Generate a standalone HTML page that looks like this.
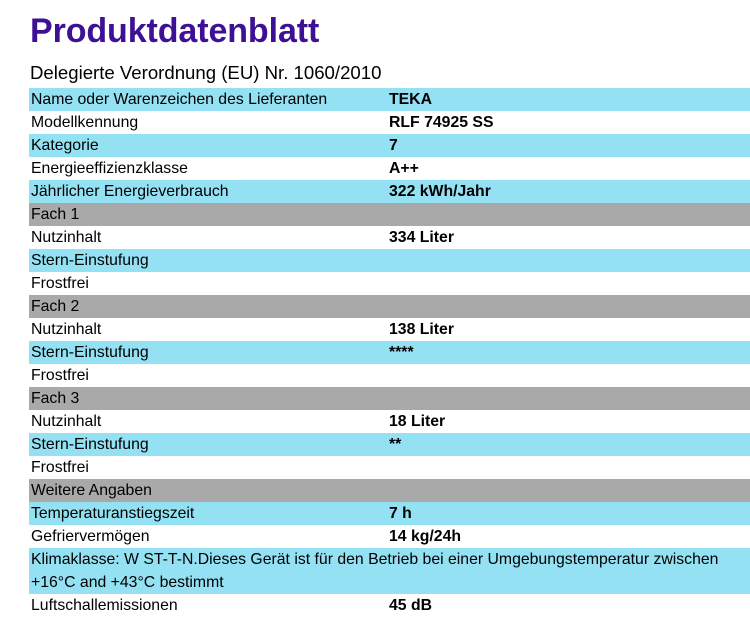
<!DOCTYPE html>
<html><head><meta charset="utf-8"><style>
body{margin:0;width:750px;height:618px;background:#fff;position:relative;overflow:hidden;font-family:"Liberation Sans",sans-serif;color:#000}
.t{position:absolute;left:30px;top:12px;font-size:34px;font-weight:bold;color:#3e1096;letter-spacing:-0.1px}
.s{position:absolute;left:30px;top:62px;font-size:18.6px;}
.r{position:absolute;left:29px;width:721px;height:23px;font-size:15.8px;line-height:23px}
.r span{position:absolute;left:2px;white-space:nowrap}
.r b{position:absolute;left:360px;white-space:nowrap}
.c{background:#93e1f3}.g{background:#a9a9a9}
</style></head><body>
<div class="t">Produktdatenblatt</div>
<div class="s">Delegierte Verordnung (EU) Nr. 1060/2010</div>
<div class="r c" style="top:88px"><span>Name oder Warenzeichen des Lieferanten</span><b>TEKA</b></div>
<div class="r" style="top:111px"><span>Modellkennung</span><b>RLF 74925 SS</b></div>
<div class="r c" style="top:134px"><span>Kategorie</span><b>7</b></div>
<div class="r" style="top:157px"><span>Energieeffizienzklasse</span><b>A++</b></div>
<div class="r c" style="top:180px"><span>Jährlicher Energieverbrauch</span><b>322 kWh/Jahr</b></div>
<div class="r g" style="top:203px"><span>Fach 1</span></div>
<div class="r" style="top:226px"><span>Nutzinhalt</span><b>334 Liter</b></div>
<div class="r c" style="top:249px"><span>Stern-Einstufung</span></div>
<div class="r" style="top:272px"><span>Frostfrei</span></div>
<div class="r g" style="top:295px"><span>Fach 2</span></div>
<div class="r" style="top:318px"><span>Nutzinhalt</span><b>138 Liter</b></div>
<div class="r c" style="top:341px"><span>Stern-Einstufung</span><b>****</b></div>
<div class="r" style="top:364px"><span>Frostfrei</span></div>
<div class="r g" style="top:387px"><span>Fach 3</span></div>
<div class="r" style="top:410px"><span>Nutzinhalt</span><b>18 Liter</b></div>
<div class="r c" style="top:433px"><span>Stern-Einstufung</span><b>**</b></div>
<div class="r" style="top:456px"><span>Frostfrei</span></div>
<div class="r g" style="top:479px"><span>Weitere Angaben</span></div>
<div class="r c" style="top:502px"><span>Temperaturanstiegszeit</span><b>7 h</b></div>
<div class="r" style="top:525px"><span>Gefriervermögen</span><b>14 kg/24h</b></div>
<div class="r c" style="top:548px;height:46px"><span style="top:0">Klimaklasse: W ST-T-N.Dieses Gerät ist für den Betrieb bei einer Umgebungstemperatur zwischen</span><span style="top:23px">+16°C and +43°C bestimmt</span></div>
<div class="r" style="top:594px"><span>Luftschallemissionen</span><b>45 dB</b></div>
</body></html>
